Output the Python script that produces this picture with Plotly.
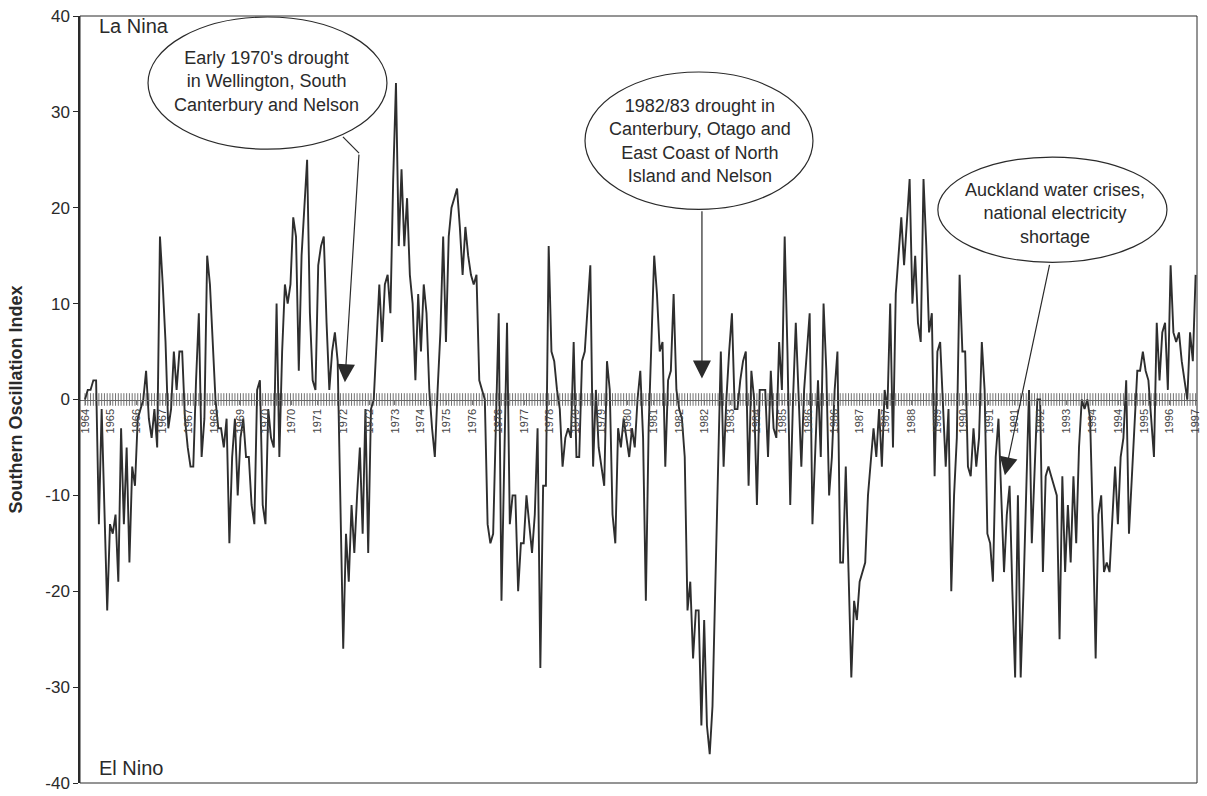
import numpy as np
import plotly.graph_objects as go

# Monthly Southern Oscillation Index values (1964 -> early 1997)
soi_1964_1969 = [0, 1, 1, 2, 2, -13, -1, -12, -22, -13, -14, -12, -19, -3, -13, -5, -17, -7, -9, -2,
                 -1, 0, 3, -2, -4, -1, -5, 17, 12, 6, -3, -1, 5, 1, 5, 5, -2, -5, -7, -7,
                 2, 9, -6, -2, 15, 12, 6, 0, -3, -3, -5, -2, -15, -6, -2, -10, -4, -2, -6, -6,
                 -11, -13, 1, 2, -11, -13, -1]
soi_1969_1975 = [-4, -5, 10, -6, 5, 12, 10, 12, 19, 17, 3, 15, 20, 25, 9, 2, 1, 14, 16, 17,
                 8, 1, 5, 7, 4, -10, -26, -14, -19, -11, -16, -10, -5, -14, -1, -16, -1, 0, 6, 12,
                 6, 12, 13, 9, 23, 33, 16, 24, 16, 21, 13, 10, 2, 11, 5, 12, 9, 1, -3, -6,
                 1, 7, 17, 6, 17, 20, 21]
soi_1975_1980 = [22, 18, 13, 18, 15, 13, 12, 13, 2, 1, 0, -13, -15, -14, -2, 9, -21, -5, 8, -13,
                 -10, -10, -20, -15, -15, -10, -13, -16, -12, -3, -28, -9, -9, 16, 5, 4, 1, -1, -7, -4,
                 -3, -4, 6, -6, -6, 4, 5, 9, 14, -7, 1, -5, -7, -9, 4, 1, -12, -15, -3, -5,
                 -2, -4, -6, -3, -5, 0]
soi_1980_1986 = [3, -4, -21, -3, 6, 15, 11, 5, 6, -7, 2, 3, 11, 1, -1, -2, -6, -22, -19, -27,
                 -22, -22, -34, -23, -34, -37, -32, -20, -9, 5, -7, 0, 5, 9, -1, -1, 2, 4, 5, -9,
                 3, 0, -11, 1, 1, 1, -6, 3, -3, -4, 6, 1, 17, 5, -11, 0, 8, 0, -7, 1,
                 5, 9, -13, -5, 2, -6, 10]
soi_1986_1991 = [3, -10, -6, 1, 5, -17, -17, -7, -18, -29, -21, -23, -19, -18, -17, -10, -6, -3, -6, -1,
                 -7, 1, -1, 10, -5, 11, 15, 19, 14, 18, 23, 10, 15, 8, 6, 23, 16, 7, 9, -8,
                 5, 6, 0, -7, -1, -20, -10, -4, 13, 5, 5, -7, -8, -3, -7, -4, 6, 1, -14, -15,
                 -19, -6, -2, -10, -18, -12]
soi_1991_1997 = [-9, -20, -29, -10, -29, -20, -8, 1, -15, -8, 0, 0, -18, -8, -7, -8, -9, -10, -25, -8,
                 -18, -11, -17, -8, -15, -5, 0, -1, 0, -2, -13, -27, -12, -10, -18, -17, -18, -13, -7, -13,
                 -6, -4, 2, -14, -8, -3, 3, 3, 5, 3, 2, -2, -6, 8, 2, 7, 8, 1, 14, 7,
                 6, 7, 4, 2, 0, 7, 4, 13]

year_labels = ["1964", "1965", "1966", "1967", "1967", "1968", "1969", "1970", "1970", "1971",
               "1972", "1972", "1973", "1974", "1975", "1976", "1976", "1977", "1978", "1979",
               "1979", "1980", "1981", "1982", "1982", "1983", "1984", "1985", "1986", "1986",
               "1987", "1987", "1988", "1989", "1990", "1991", "1991", "1992", "1993", "1994",
               "1994", "1995", "1996", "1997"]

y_ticks = [-40, -30, -20, -10, 0, 10, 20, 30, 40]
y_tick_text = ["-40", "-30", "-20", "-10", "0", "10", "20", "30", "40"]

soi = soi_1964_1969 + soi_1969_1975 + soi_1975_1980 + soi_1980_1986 + soi_1986_1991 + soi_1991_1997
months = list(range(len(soi)))
n = len(soi)
tickvals = list(np.linspace(0, n - 1, len(year_labels)))

FONT = "Liberation Sans, Arial, Helvetica, sans-serif"
INK = "#2a2a2a"

fig = go.Figure()

# hatched month marks along the zero axis
fig.add_trace(go.Scatter(
    x=months, y=[0] * n, mode="markers", hoverinfo="skip",
    marker=dict(symbol="line-ns", size=9, line=dict(width=1, color="#737373")),
    showlegend=False))

fig.add_trace(go.Scatter(
    x=months, y=soi, mode="lines",
    line=dict(color="#2e2e2e", width=1.9),
    showlegend=False))

fig.update_layout(
    width=1207, height=796,
    margin=dict(l=80, r=10, t=16, b=13),
    paper_bgcolor="white", plot_bgcolor="white",
    font=dict(family=FONT, color=INK),
    xaxis=dict(
        range=[-1.8, n - 1 + 0.5], anchor="free", position=0.5,
        showline=True, linecolor="#666", linewidth=1,
        tickmode="array", tickvals=tickvals, ticktext=year_labels,
        tickangle=-90, ticks="outside", ticklen=4, tickcolor="#777",
        tickfont=dict(size=11, color="#444", family="Liberation Sans Narrow, " + FONT),
        showgrid=False, zeroline=False, automargin=False),
    yaxis=dict(
        range=[-40, 40], tickmode="array", tickvals=y_ticks, ticktext=y_tick_text,
        showline=True, linecolor=INK, linewidth=1.5,
        ticks="outside", ticklen=5, tickcolor=INK,
        tickfont=dict(size=17, color=INK),
        showgrid=False, zeroline=False, automargin=False,
        title=dict(text="<b>Southern Oscillation Index</b>", font=dict(size=18, color=INK), standoff=18)),
)

# plot frame
fig.add_shape(type="rect", xref="paper", yref="paper", x0=0, x1=1, y0=0, y1=1,
              line=dict(color=INK, width=1))

# corner labels
fig.add_annotation(xref="paper", yref="paper", x=0.015, y=0.987, xanchor="left", yanchor="middle",
                   text="La Nina", showarrow=False, font=dict(size=20, color=INK))
fig.add_annotation(xref="paper", yref="paper", x=0.015, y=0.02, xanchor="left", yanchor="middle",
                   text="El Nino", showarrow=False, font=dict(size=20, color=INK))

# callout ellipses
ellipses = [
    (0.0609, 0.2748, 0.8264, 0.9987),
    (0.4521, 0.6562, 0.748, 0.927),
    (0.768, 0.9731, 0.6789, 0.816),
]
for x0, x1, y0, y1 in ellipses:
    fig.add_shape(type="circle", xref="paper", yref="paper", x0=x0, x1=x1, y0=y0, y1=y1,
                  line=dict(color=INK, width=1.2), fillcolor="white", layer="above")

callouts = [
    (0.1674, 0.915, "Early 1970's drought<br>in Wellington, South<br>Canterbury and Nelson"),
    (0.555, 0.8368, "1982/83 drought in<br>Canterbury, Otago and<br>East Coast of North<br>Island and Nelson"),
    (0.8729, 0.7428, "Auckland water crises,<br>national electricity<br>shortage"),
]
for x, y, t in callouts:
    fig.add_annotation(xref="paper", yref="paper", x=x, y=y, text=t, showarrow=False,
                       xanchor="center", yanchor="middle",
                       font=dict(size=18, color=INK), align="center")

# kinked leader of first callout
fig.add_shape(type="line", xref="x", yref="y", x0=92.9, y0=27.4, x1=98.7, y1=25.7,
              line=dict(color=INK, width=1.2))

arrows = [
    (93.6, 1.8, 98.7, 25.7),
    (222.2, 2.2, 222.2, 19.8),
    (331.3, -7.9, 347.5, 14.2),
]
for x, y, ax, ay in arrows:
    fig.add_annotation(xref="x", yref="y", axref="x", ayref="y", x=x, y=y, ax=ax, ay=ay,
                       text="", showarrow=True, arrowhead=2, arrowsize=3, arrowwidth=1.2,
                       arrowcolor=INK)

fig.write_html("out.html", config={"displayModeBar": False},
               post_script="document.body.style.margin='0px';")
